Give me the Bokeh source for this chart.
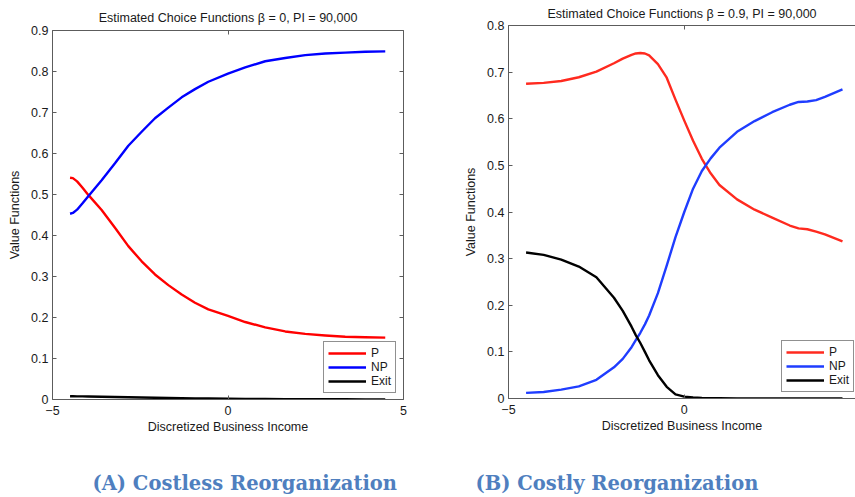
from bokeh.plotting import figure
from bokeh.models import LinearAxis, FixedTicker, Range1d, Legend, LegendItem, ColumnDataSource
from bokeh.layouts import row, column
from bokeh.core.properties import value
from bokeh.embed import file_html
from bokeh.resources import INLINE

# ---------------- data ----------------
# Panel A: beta = 0 (costless reorganization)
a_x = [-4.50, -4.42, -4.30, -4.15, -3.98, -3.60, -3.22, -2.84, -2.46, -2.08, -1.70, -1.32, -0.94,
       -0.56, 0.00, 0.49, 1.06, 1.63, 2.20, 2.77, 3.34, 3.91, 4.48]
a_p = [0.541, 0.540, 0.532, 0.517, 0.499, 0.462, 0.419, 0.374, 0.337, 0.305, 0.279, 0.256, 0.236,
       0.220, 0.204, 0.189, 0.176, 0.166, 0.160, 0.156, 0.153, 0.152, 0.151]
a_np = [0.453, 0.455, 0.463, 0.478, 0.496, 0.535, 0.576, 0.619, 0.653, 0.686, 0.712, 0.737, 0.757,
        0.775, 0.795, 0.810, 0.825, 0.833, 0.840, 0.844, 0.846, 0.848, 0.849]
a_exit = [0.0080, 0.0079, 0.0077, 0.0075, 0.0072, 0.0066, 0.0060, 0.0054, 0.0048, 0.0042, 0.0037,
          0.0032, 0.0028, 0.0024, 0.0020, 0.0016, 0.0013, 0.0010, 0.0008, 0.0006, 0.0005, 0.0004, 0.0003]

# Panel B: beta = 0.9 (costly reorganization)
b_x = [-4.50, -4.00, -3.50, -3.00, -2.50, -2.00, -1.75, -1.50, -1.38, -1.25, -1.12, -1.00, -0.75,
       -0.50, -0.25, 0.00, 0.25, 0.50, 0.75, 1.00, 1.50, 2.00, 2.50, 3.00, 3.25,
       3.50, 3.75, 4.00, 4.50]
b_p = [0.675, 0.677, 0.681, 0.689, 0.701, 0.719, 0.729, 0.737, 0.740, 0.741, 0.740, 0.736, 0.717,
       0.688, 0.641, 0.596, 0.553, 0.514, 0.483, 0.458, 0.427, 0.405, 0.388, 0.371, 0.365,
       0.363, 0.358, 0.352, 0.337]
b_np = [0.012, 0.014, 0.019, 0.026, 0.040, 0.067, 0.085, 0.110, 0.125, 0.141, 0.159, 0.178, 0.226,
        0.285, 0.346, 0.400, 0.450, 0.488, 0.515, 0.538, 0.572, 0.595, 0.614, 0.630, 0.636,
        0.637, 0.640, 0.647, 0.663]
b_exit = [0.313, 0.308, 0.298, 0.283, 0.260, 0.216, 0.188, 0.154, 0.136, 0.119, 0.100, 0.082, 0.050,
          0.025, 0.009, 0.004, 0.002, 0.001, 0.0007, 0.0005, 0.0003, 0.0002, 0.0002, 0.0001, 0.0001,
          0.0001, 0.0001, 0.0001, 0.0001]

x_ticks = [-5, 0, 5]
x_tick_labels = {-5: "\u22125", 0: "0", 5: "5"}
a_y_ticks = [0, 0.1, 0.2, 0.3, 0.4, 0.5, 0.6, 0.7, 0.8, 0.9]
b_y_ticks = [0, 0.1, 0.2, 0.3, 0.4, 0.5, 0.6, 0.7, 0.8]
series_names = ["P", "NP", "Exit"]

titles = ["Estimated Choice Functions \u03b2 = 0, PI = 90,000",
          "Estimated Choice Functions \u03b2 = 0.9, PI = 90,000"]
captions = ["(A) Costless Reorganization", "(B) Costly Reorganization"]
x_label = "Discretized Business Income"
y_label = "Value Functions"

# ---------------- style / layout ----------------
FONT = "Liberation Sans"
AX = "#5c5c5c"
TXT = "#1a1a1a"
CAP = "#4f7fbf"
PAGE_W = 855
PANEL_H = 460
CAP_H = 37
CAP_LEFT = [92, 475]      # left edge of each caption (px)
CAP_MID = 14              # caption middle, px from the bottom of the caption strip


def tick_labels(ticks):
    return {t: ("0" if t == 0 else f"{t:g}") for t in ticks}


def style_axis(ax, ticks, labels=None):
    ax.ticker = FixedTicker(ticks=ticks)
    ax.major_tick_in = 4
    ax.major_tick_out = 0
    ax.minor_tick_line_color = None
    ax.axis_line_color = AX
    ax.major_tick_line_color = AX
    ax.major_label_text_font = FONT
    ax.major_label_text_color = TXT
    ax.axis_label_text_font = FONT
    ax.axis_label_text_font_size = "12.5px"
    ax.axis_label_text_font_style = "normal"
    ax.axis_label_text_color = TXT
    if labels is None:
        ax.major_label_overrides = {t: "" for t in ticks}
        ax.major_label_text_font_size = "0px"
        ax.major_label_standoff = 0
        ax.axis_label_standoff = 0
    else:
        ax.major_label_overrides = labels
        ax.major_label_text_font_size = "12.5px"


def make_panel(xs, ps, nps, exits, yticks, yend, xend, title, colors,
               width, height, left, top, bottom, right, legend_loc, title_standoff, box_right):
    p = figure(width=width, height=height, output_backend="svg", toolbar_location=None,
               x_range=Range1d(-5, xend), y_range=Range1d(0, yend),
               min_border_left=left, min_border_right=right,
               min_border_top=top, min_border_bottom=bottom)
    p.xgrid.visible = False
    p.ygrid.visible = False
    p.background_fill_color = "white"
    p.border_fill_color = "white"
    p.outline_line_color = None

    style_axis(p.xaxis[0], [t for t in x_ticks if t <= xend],
               {k: v for k, v in x_tick_labels.items() if k <= xend})
    p.xaxis[0].axis_label = x_label
    p.xaxis[0].major_label_standoff = 6
    p.xaxis[0].axis_label_standoff = 2
    style_axis(p.yaxis[0], yticks, tick_labels(yticks))
    p.yaxis[0].axis_label = y_label
    p.yaxis[0].major_label_standoff = 4
    p.yaxis[0].axis_label_standoff = 6

    top_ax = LinearAxis()
    style_axis(top_ax, [t for t in x_ticks if t <= xend])
    p.add_layout(top_ax, "above")
    if box_right:
        right_ax = LinearAxis()
        style_axis(right_ax, yticks)
        p.add_layout(right_ax, "right")

    rs = []
    for ys, c in zip([ps, nps, exits], colors):
        rs.append(p.line(xs, ys, line_color=c, line_width=2.4, line_join="round"))

    legend = Legend(items=[LegendItem(label=n, renderers=[r]) for n, r in zip(series_names, rs)],
                    location=legend_loc)
    legend.glyph_width = 38
    legend.glyph_height = 14
    legend.label_height = 14
    legend.spacing = 0
    legend.padding = 4
    legend.margin = 0
    legend.label_standoff = 5
    legend.border_line_color = "#222222"
    legend.border_line_width = 1
    legend.background_fill_color = "white"
    legend.background_fill_alpha = 1
    legend.label_text_font = FONT
    legend.label_text_font_size = "12px"
    legend.label_text_color = TXT
    p.add_layout(legend)

    p.title.text = title
    p.title.align = "center"
    p.title.text_font = FONT
    p.title.text_font_size = "12.5px"
    p.title.text_font_style = "normal"
    p.title.text_color = TXT
    p.title.standoff = title_standoff
    return p


pa = make_panel(a_x, a_p, a_np, a_exit, a_y_ticks, 0.9, 5, titles[0],
                ["#ff0000", "#0000ff", "#000000"],
                width=461, height=PANEL_H, left=52, top=30, bottom=PANEL_H - 30 - 369, right=58,
                legend_loc=(271, 6), title_standoff=11, box_right=True)
pb = make_panel(b_x, b_p, b_np, b_exit, b_y_ticks, 0.8, 4.87, titles[1],
                ["#ff2a1f", "#1f3dff", "#000000"],
                width=PAGE_W - 461, height=PANEL_H, left=44, top=25, bottom=PANEL_H - 25 - 373,
                right=0, legend_loc=(273, 6), title_standoff=9, box_right=False)

# caption strip under the two panels
pc = figure(width=PAGE_W, height=CAP_H, output_backend="svg", toolbar_location=None,
            x_range=Range1d(0, PAGE_W), y_range=Range1d(0, CAP_H),
            min_border=0, x_axis_location=None, y_axis_location=None)
pc.outline_line_color = None
pc.xgrid.visible = False
pc.ygrid.visible = False
pc.border_fill_color = "white"
cap_src = ColumnDataSource(dict(x=CAP_LEFT, y=[CAP_MID] * len(captions), text=captions))
pc.text(x="x", y="y", text="text", source=cap_src, text_font=value("DejaVu Serif"),
        text_font_style="bold", text_font_size="19.5px", text_color=CAP,
        text_align="left", text_baseline="middle")

# each panel wrapped on its own so their frames are not forced to line up
layout = column(row(column(pa), column(pb)), pc)
open("out.html", "w").write(file_html(layout, INLINE, "Estimated Choice Functions"))
